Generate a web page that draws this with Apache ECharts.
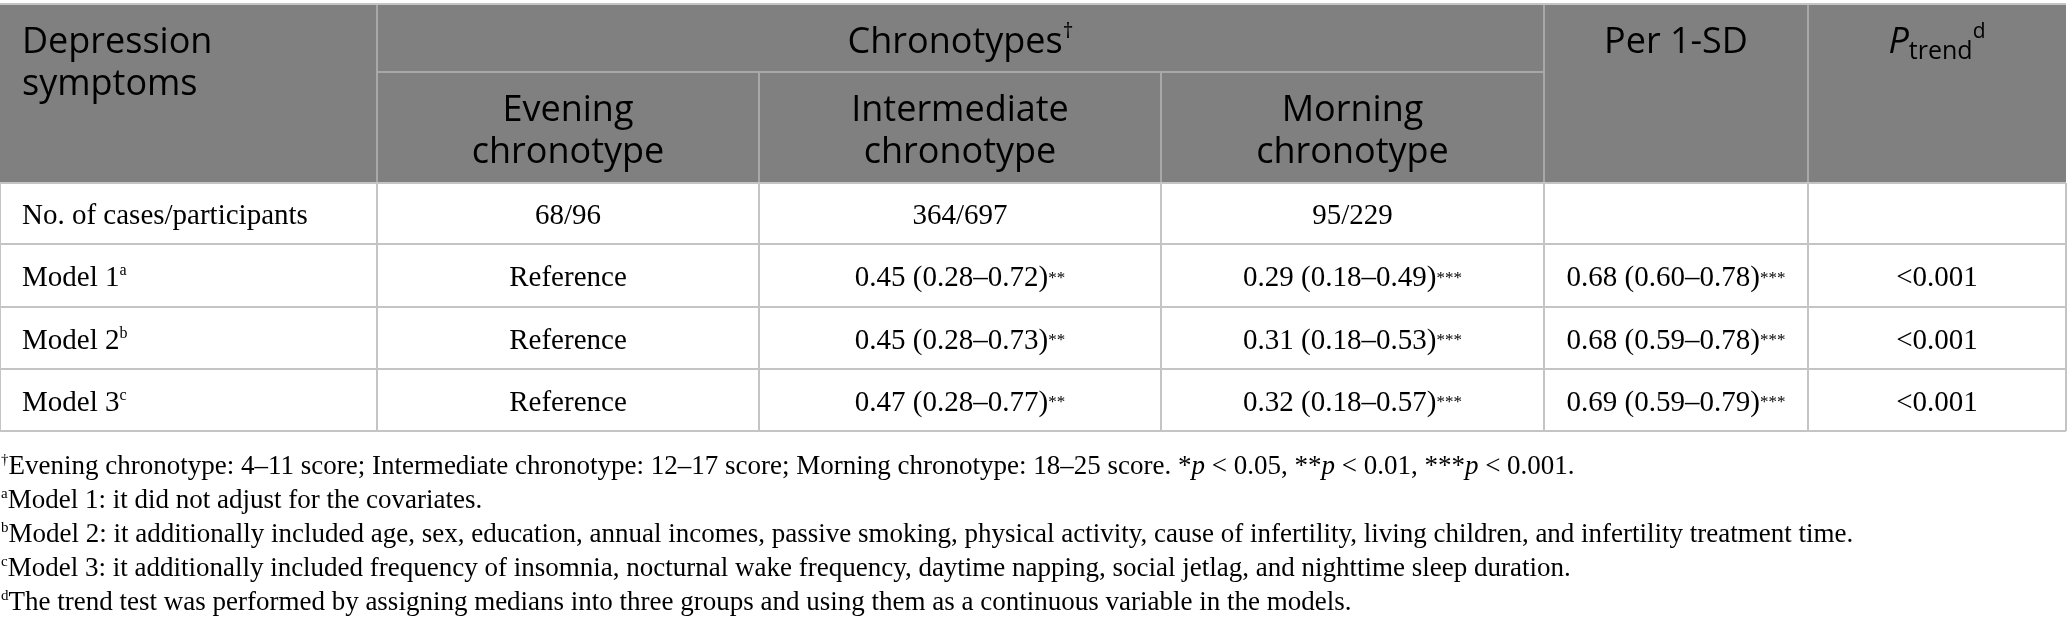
<!DOCTYPE html>
<html><head><meta charset="utf-8">
<script src="https://cdn.jsdelivr.net/npm/echarts@6/dist/echarts.min.js"></script>
<style>html,body{margin:0;padding:0;background:#fff}#c{width:2068px;height:633px}</style>
</head><body><div id="c"></div>
<script>
// ---------------- data ----------------
const stubHeader = ['Depression', 'symptoms'];
const groupHeader = 'Chronotypes';
const groupHeaderMark = '†';
const chronotypeHeaders = [['Evening', 'chronotype'], ['Intermediate', 'chronotype'], ['Morning', 'chronotype']];
const perSDHeader = 'Per 1-SD';
const pTrendHeader = { main: 'P', sub: 'trend', mark: 'd' };

const rowLabels = ['No. of cases/participants', 'Model 1', 'Model 2', 'Model 3'];
const rowMarks = ['', 'a', 'b', 'c'];
const eveningValues = ['68/96', 'Reference', 'Reference', 'Reference'];
const intermediateValues = ['364/697', '0.45 (0.28–0.72)', '0.45 (0.28–0.73)', '0.47 (0.28–0.77)'];
const intermediateSig = ['', '**', '**', '**'];
const morningValues = ['95/229', '0.29 (0.18–0.49)', '0.31 (0.18–0.53)', '0.32 (0.18–0.57)'];
const morningSig = ['', '***', '***', '***'];
const perSDValues = ['', '0.68 (0.60–0.78)', '0.68 (0.59–0.78)', '0.69 (0.59–0.79)'];
const perSDSig = ['', '***', '***', '***'];
const pTrendValues = ['', '<0.001', '<0.001', '<0.001'];

const footnoteMarks = ['†', 'a', 'b', 'c', 'd'];
const footnoteTexts = [
  'Evening chronotype: 4–11 score; Intermediate chronotype: 12–17 score; Morning chronotype: 18–25 score. *|p| < 0.05, **|p| < 0.01, ***|p| < 0.001.',
  'Model 1: it did not adjust for the covariates.',
  'Model 2: it additionally included age, sex, education, annual incomes, passive smoking, physical activity, cause of infertility, living children, and infertility treatment time.',
  'Model 3: it additionally included frequency of insomnia, nocturnal wake frequency, daytime napping, social jetlag, and nighttime sleep duration.',
  'The trend test was performed by assigning medians into three groups and using them as a continuous variable in the models.'
];

// ---------------- layout (pixel space of the value axes) ----------------
const W = 2068, H = 633;
const colEdges = [0, 377, 759, 1161, 1544, 1808, 2066];
const headTop = 4, headMid = 72, headBottom = 183;
const rowEdges = [183, 244, 307, 369, 431];
const footY = [467, 501, 535, 569, 603];
const footX = 1;
const stubX = 22;

const HEAD_FONT = '"Open Sans", "DejaVu Sans", sans-serif';
const BODY_FONT = '"Liberation Serif", "DejaVu Serif", serif';
const headRich = {
  h: { fontFamily: HEAD_FONT, fontSize: 36, color: '#ffffff', lineHeight: 42 },
  hi: { fontFamily: HEAD_FONT, fontSize: 36, fontStyle: 'italic', color: '#ffffff', lineHeight: 42 },
  hsub: { fontFamily: HEAD_FONT, fontSize: 25, color: '#ffffff', lineHeight: 17, verticalAlign: 'bottom' },
  hs: { fontFamily: HEAD_FONT, fontSize: 21, color: '#ffffff', lineHeight: 29, verticalAlign: 'top' }
};
const bodyRich = {
  b: { fontFamily: BODY_FONT, fontSize: 29, color: '#1d1d1d', lineHeight: 31 },
  bs: { fontFamily: BODY_FONT, fontSize: 16, color: '#1d1d1d', lineHeight: 19, verticalAlign: 'top' },
  st: { fontFamily: BODY_FONT, fontSize: 17, color: '#8a8a8a', lineHeight: 31 }
};
const footRich = {
  f: { fontFamily: BODY_FONT, fontSize: 27, color: '#1d1d1d', lineHeight: 29 },
  fi: { fontFamily: BODY_FONT, fontSize: 27, fontStyle: 'italic', color: '#1d1d1d', lineHeight: 29 },
  fs: { fontFamily: BODY_FONT, fontSize: 15, color: '#1d1d1d', lineHeight: 18, verticalAlign: 'top' }
};

// ---------------- build items ----------------
const items = [];
items.push({ kind: 'rect', x0: colEdges[0], y0: headTop, x1: colEdges[colEdges.length - 1], y1: headBottom, fill: '#808080' });
const HL = '#a8a8a8', BL = '#c4c4c4';
items.push({ kind: 'line', x0: colEdges[1], y0: headTop, x1: colEdges[1], y1: headBottom, stroke: HL });
items.push({ kind: 'line', x0: colEdges[2], y0: headMid, x1: colEdges[2], y1: headBottom, stroke: HL });
items.push({ kind: 'line', x0: colEdges[3], y0: headMid, x1: colEdges[3], y1: headBottom, stroke: HL });
items.push({ kind: 'line', x0: colEdges[4], y0: headTop, x1: colEdges[4], y1: headBottom, stroke: HL });
items.push({ kind: 'line', x0: colEdges[5], y0: headTop, x1: colEdges[5], y1: headBottom, stroke: HL });
items.push({ kind: 'line', x0: colEdges[1], y0: headMid, x1: colEdges[4], y1: headMid, stroke: HL });
items.push({ kind: 'line', x0: colEdges[0], y0: headTop, x1: colEdges[6], y1: headTop, stroke: BL });
rowEdges.forEach(y => items.push({ kind: 'line', x0: colEdges[0], y0: y, x1: colEdges[6], y1: y, stroke: BL }));
colEdges.forEach(x => items.push({ kind: 'line', x0: x, y0: rowEdges[0], x1: x, y1: rowEdges[rowEdges.length - 1], stroke: BL }));

const mid = i => (colEdges[i] + colEdges[i + 1]) / 2;
const topLineY = 43, subBlockY = 132;
items.push({ kind: 'text', x: stubX, y: topLineY + 21, align: 'left',
  text: stubHeader.map(s => '{h|' + s + '}').join('\n'), rich: headRich });
items.push({ kind: 'text', x: (colEdges[1] + colEdges[4]) / 2, y: topLineY, align: 'center',
  text: '{h|' + groupHeader + '}{hs|' + groupHeaderMark + '}', rich: headRich });
chronotypeHeaders.forEach((lines, i) => items.push({ kind: 'text', x: mid(i + 1), y: subBlockY, align: 'center',
  text: lines.map(s => '{h|' + s + '}').join('\n'), rich: headRich }));
items.push({ kind: 'text', x: mid(4), y: topLineY, align: 'center', text: '{h|' + perSDHeader + '}', rich: headRich });
items.push({ kind: 'text', x: mid(5), y: topLineY, align: 'center',
  text: '{hi|' + pTrendHeader.main + '}{hsub|' + pTrendHeader.sub + '}{hs|' + pTrendHeader.mark + '}', rich: headRich });

const cell = (v, sig) => v ? ('{b|' + v + '}' + (sig ? '{st|' + sig + '}' : '')) : '';
rowLabels.forEach((lab, r) => {
  const yc = (rowEdges[r] + rowEdges[r + 1]) / 2 + 3;
  items.push({ kind: 'text', x: stubX, y: yc, align: 'left',
    text: '{b|' + lab + '}' + (rowMarks[r] ? '{bs|' + rowMarks[r] + '}' : ''), rich: bodyRich });
  const cols = [
    cell(eveningValues[r], ''),
    cell(intermediateValues[r], intermediateSig[r]),
    cell(morningValues[r], morningSig[r]),
    cell(perSDValues[r], perSDSig[r]),
    cell(pTrendValues[r], '')
  ];
  cols.forEach((t, c) => { if (t) items.push({ kind: 'text', x: mid(c + 1), y: yc, align: 'center', text: t, rich: bodyRich }); });
});

footnoteTexts.forEach((t, i) => {
  const parts = t.split('|');
  const body = parts.map((p, k) => (k % 2 ? '{fi|' : '{f|') + p + '}').join('');
  items.push({ kind: 'text', x: footX, y: footY[i], align: 'left', text: '{fs|' + footnoteMarks[i] + '}' + body, rich: footRich });
});

// ---------------- chart ----------------
const chart = echarts.init(document.getElementById('c'), null, { renderer: 'canvas' });
chart.setOption({
  animation: false,
  backgroundColor: '#ffffff',
  grid: { left: 0, right: 0, top: 0, bottom: 0, containLabel: false },
  xAxis: { type: 'value', min: 0, max: W, show: false },
  yAxis: { type: 'value', min: 0, max: H, inverse: true, show: false },
  series: [{
    type: 'custom',
    clip: false,
    data: items.map((_, i) => [i]),
    encode: { x: -1, y: -1 },
    renderItem: function (params, api) {
      const it = items[params.dataIndex];
      if (it.kind === 'rect') {
        const a = api.coord([it.x0, it.y0]), b = api.coord([it.x1, it.y1]);
        return { type: 'rect', shape: { x: a[0], y: a[1], width: b[0] - a[0], height: b[1] - a[1] }, style: { fill: it.fill } };
      }
      if (it.kind === 'line') {
        const a = api.coord([it.x0, it.y0]), b = api.coord([it.x1, it.y1]);
        return { type: 'line', shape: { x1: a[0], y1: a[1], x2: b[0], y2: b[1] }, style: { stroke: it.stroke, lineWidth: 2 } };
      }
      const p = api.coord([it.x, it.y]);
      return { type: 'text', style: { x: p[0], y: p[1], text: it.text, rich: it.rich, align: it.align, verticalAlign: 'middle' } };
    }
  }]
});
</script></body></html>
